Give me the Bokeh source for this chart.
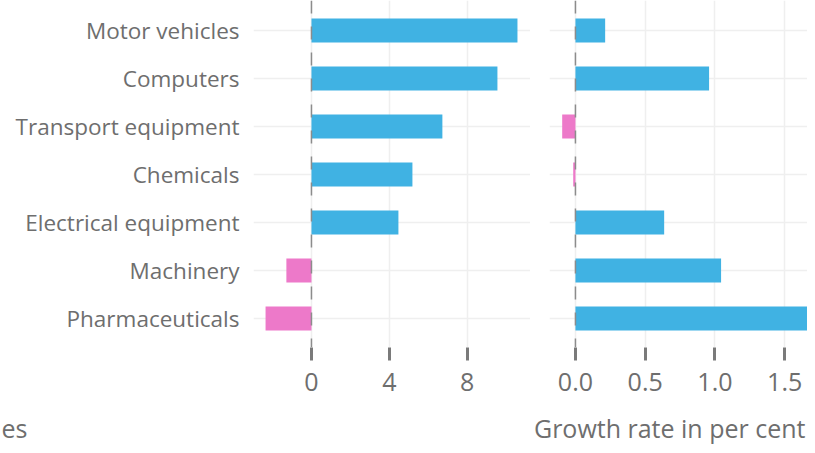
from bokeh.plotting import figure
from bokeh.layouts import row, column
from bokeh.models import Range1d, FixedTicker, Span, NumeralTickFormatter, ColumnDataSource
from bokeh.embed import file_html
from bokeh.resources import INLINE
from bokeh.core.properties import value

# ---- data (top to bottom) ----
categories = ["Motor vehicles", "Computers", "Transport equipment", "Chemicals",
              "Electrical equipment", "Machinery", "Pharmaceuticals"]
left_values = [10.59, 9.56, 6.73, 5.19, 4.47, -1.29, -2.36]
right_values = [0.213, 0.958, -0.095, -0.016, 0.636, 1.044, 1.72]
left_ticks = [0, 4, 8]
right_ticks = [0.0, 0.5, 1.0, 1.5]
axis_title = "Growth rate in per cent"
left_caption = "es"

BLUE = "#40B2E3"
PINK = "#ED79C9"
TEXT = "#6e6e6e"
GRID = "#efefef"
FONT = "Open Sans"

n = len(categories)
ypos = [n - i for i in range(n)]  # 7 .. 1


def make_source(vals):
    return ColumnDataSource(dict(
        y=ypos,
        left=[min(0, v) for v in vals],
        right=[max(0, v) for v in vals],
        color=[BLUE if v >= 0 else PINK for v in vals],
    ))


def style(p, ticks):
    p.outline_line_color = None
    p.background_fill_color = "white"
    p.border_fill_color = "white"
    p.xaxis.ticker = FixedTicker(ticks=ticks)
    p.xgrid.ticker = FixedTicker(ticks=ticks)
    p.ygrid.ticker = FixedTicker(ticks=ypos)
    p.yaxis.ticker = FixedTicker(ticks=ypos)
    for g in (p.xgrid, p.ygrid):
        g.grid_line_color = GRID
        g.grid_line_width = 1.5
    p.xaxis.axis_line_color = None
    p.xaxis.major_tick_in = 0
    p.xaxis.major_tick_out = 13
    p.xaxis.major_tick_line_width = 3
    p.xaxis.major_tick_line_color = "#7a7a7a"
    p.xaxis.minor_tick_line_color = None
    p.xaxis.major_label_standoff = 12
    p.xaxis.major_label_text_font = FONT
    p.xaxis.major_label_text_font_size = "25px"
    p.xaxis.major_label_text_color = TEXT


FRAME_H = 347
BOTTOM = 53
y_range_top = 7 + 30 / 48
y_range_bot = 1 - 29 / 48

# ---- left panel ----
pa = figure(x_range=Range1d(-2.98, 11.26), y_range=Range1d(y_range_bot, y_range_top),
            frame_width=277, frame_height=FRAME_H,
            min_border_left=253, min_border_right=0, min_border_top=0, min_border_bottom=BOTTOM,
            toolbar_location=None, output_backend="svg")
style(pa, left_ticks)
pa.hbar(y="y", left="left", right="right", height=0.5, fill_color="color",
        line_color=None, source=make_source(left_values))
pa.yaxis.major_label_overrides = {y: c for y, c in zip(ypos, categories)}
pa.yaxis.axis_line_color = None
pa.yaxis.major_tick_line_color = None
pa.yaxis.major_tick_out = 0
pa.yaxis.major_tick_in = 0
pa.yaxis.minor_tick_line_color = None
pa.yaxis.major_label_standoff = 14
pa.yaxis.major_label_text_font = FONT
pa.yaxis.major_label_text_font_size = "22.5px"
pa.yaxis.major_label_text_color = TEXT
pa.add_layout(Span(location=0, dimension="height", line_color="#8c8c8c",
                   line_width=1.5, line_dash="13 13"))

# ---- right panel ----
pb = figure(x_range=Range1d(-0.186, 1.6635), y_range=Range1d(y_range_bot, y_range_top),
            frame_width=258, frame_height=FRAME_H,
            min_border_left=19, min_border_right=0, min_border_top=0, min_border_bottom=BOTTOM,
            toolbar_location=None, output_backend="svg")
style(pb, right_ticks)
pb.xaxis.formatter = NumeralTickFormatter(format="0.0")
pb.yaxis.visible = False
pb.hbar(y="y", left="left", right="right", height=0.5, fill_color="color",
        line_color=None, source=make_source(right_values))
pb.add_layout(Span(location=0, dimension="height", line_color="#8c8c8c",
                   line_width=1.5, line_dash="13 13"))

# ---- bottom strip with titles ----
pc = figure(x_range=Range1d(0, 807), y_range=Range1d(0, 45), width=807, height=45,
            min_border=0, toolbar_location=None, output_backend="svg")
pc.axis.visible = False
pc.grid.visible = False
pc.outline_line_color = None
pc.text(x=[805], y=[18], text=[axis_title], text_align="right", text_baseline="middle",
        text_font=value(FONT), text_font_size="25px", text_color=TEXT)
pc.text(x=[1], y=[18], text=[left_caption], text_align="left", text_baseline="middle",
        text_font=value(FONT), text_font_size="25px", text_color=TEXT)

layout = column(row(pa, pb, spacing=0), pc, spacing=0)
open("out.html", "w").write(file_html(layout, INLINE))
